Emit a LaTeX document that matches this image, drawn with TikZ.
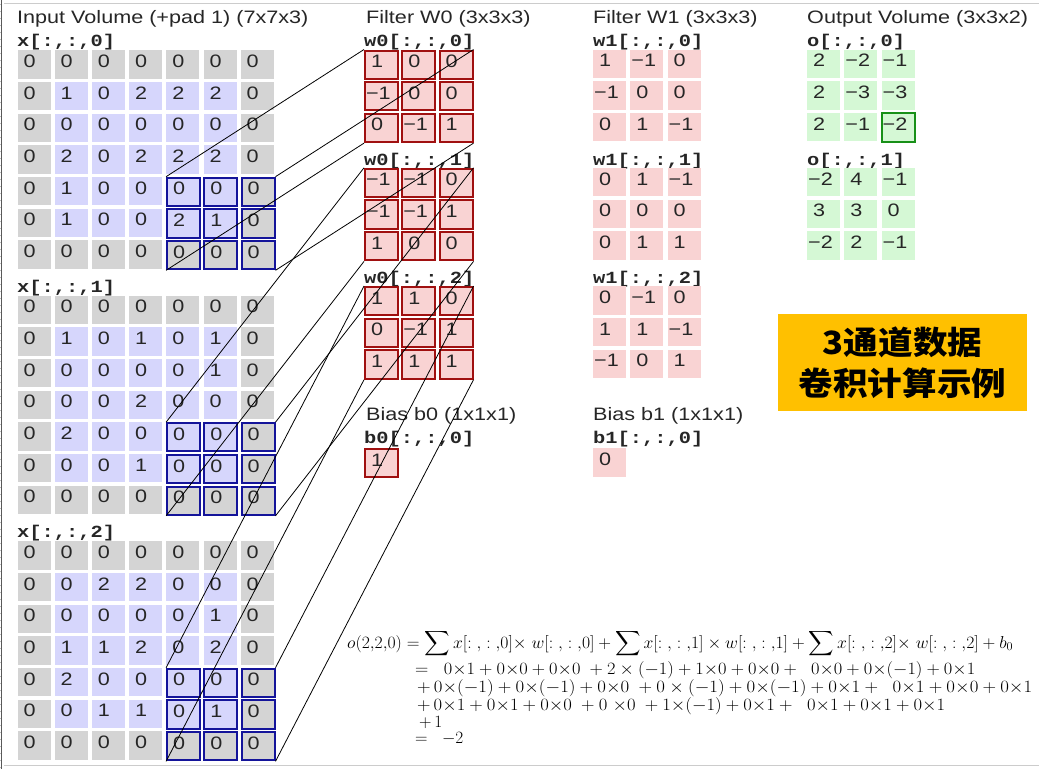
\documentclass[tikz,border=0pt]{standalone}
\usepackage{exscale}
\usepackage{fontspec}
\usepackage{graphicx}
\setmainfont{Liberation Sans}[FakeStretch=1.2]
\newfontfamily\labfont{Liberation Mono}[FakeStretch=1.2]
\newfontfamily\cjkfont{Noto Sans CJK SC}[FakeStretch=1.08]
\definecolor{padgray}{HTML}{D4D4D4}
\definecolor{lav}{HTML}{D6D6FC}
\definecolor{pinkc}{HTML}{F9D3D3}
\definecolor{redb}{HTML}{A01010}
\definecolor{navyb}{HTML}{14149A}
\definecolor{greenc}{HTML}{D5F8D5}
\definecolor{greenb}{HTML}{189018}
\definecolor{notey}{HTML}{FFC000}
\newcommand\cellfnt{\fontsize{18}{20}\selectfont}
\newcommand\cv[1]{\ifnum#1<0\relax\kern1pt\char"2212\relax\number\numexpr0-(#1)\relax\else\kern6pt#1\fi}
\newcommand\cellbox[1]{\makebox[33pt][l]{\cv{#1}}}
\tikzset{
  incell/.style={anchor=north west, inner sep=0pt, minimum height=28.3pt,
    text height=11pt, text depth=5pt, font=\cellfnt, text=black!85},
  winb/.style={draw=navyb, line width=2pt},
  wzero/.style={fill=pinkc, draw=redb, line width=2pt},
  wone/.style={fill=pinkc},
  outc/.style={fill=greenc},
  conn/.style={draw=black, line width=0.8pt},
  ttl/.style={anchor=base west, inner sep=0pt, font=\fontsize{18}{20}\selectfont, text=black!85},
  lab/.style={anchor=base west, inner sep=0pt, font=\labfont\bfseries\fontsize{17}{20}\selectfont, text=black!85},
  fml/.style={anchor=base west, inner sep=0pt, font=\fontsize{16.5}{18}\selectfont},
  note/.style={fill=notey, minimum width=249pt, minimum height=97pt, inner sep=0pt,
    align=center, font=\cjkfont\bfseries\fontsize{32}{41}\selectfont}
}
\newcommand\ingrid[3]{%
  \foreach \rowdata [count=\r from 0] in {#3} {
    \foreach \v [count=\c from 0] in \rowdata {
      \def\cf{lav}\def\cb{}
      \ifnum\r=0 \def\cf{padgray}\fi
      \ifnum\r=6 \def\cf{padgray}\fi
      \ifnum\c=0 \def\cf{padgray}\fi
      \ifnum\c=6 \def\cf{padgray}\fi
      \ifnum\r>3 \ifnum\c>3 \def\cb{winb}\fi\fi
      \node[incell, fill=\cf, \cb] (x#1-\r-\c) at ({17.3+37.2*\c}, {#2+31.67*\r}) {\cellbox{\v}};
    }
  }
}
\newcommand\smgrid[5]{%
  \foreach \rowdata [count=\r from 0] in {#5} {
    \foreach \v [count=\c from 0] in \rowdata {
      \node[incell, #4] (#1-\r-\c) at ({#2+37.25*\c}, {#3+31.67*\r}) {\cellbox{\v}};
    }
  }
}
\newcommand\ix{[:{,}:{,}}
\newcommand\fline[3]{\hbox{\hspace*{#1}\smash{\resizebox{#2}{\height}{#3}}}}
\begin{document}
\begin{tikzpicture}[x=1pt,y=-1pt]
\useasboundingbox (0,0) rectangle (1039,769);
\fill[white] (0,0) rectangle (1039,769);
% screenshot frame
\draw[black!20, line width=1pt] (4,3) -- (1039,3);
\draw[black!20, line width=1pt] (4,765.5) -- (1039,765.5);
\draw[black!65, line width=1.2pt] (1.6,0) -- (1.6,769);
\foreach \t in {4,11,...,769} \draw[black!25, line width=0.6pt] (0,\t) -- (1.2,\t);

% titles
\node[ttl] (tin) at (17,23.3) {Input Volume (+pad 1) (7x7x3)};
\node[ttl] (tw0) at (366,23) {Filter W0 (3x3x3)};
\node[ttl] (tw1) at (593,23) {Filter W1 (3x3x3)};
\node[ttl] (tout) at (807,23) {Output Volume (3x3x2)};
\node[ttl] (tb0) at (366,420) {Bias b0 (1x1x1)};
\node[ttl] (tb1) at (593,420) {Bias b1 (1x1x1)};

% labels
\node[lab] (lx0) at (17,46.7) {x[:,:,0]};
\node[lab] (lx1) at (17,292.2) {x[:,:,1]};
\node[lab] (lx2) at (17,537.7) {x[:,:,2]};
\node[lab] (lwa0) at (364,46.7) {w0[:,:,0]};
\node[lab] (lwa1) at (364,165) {w0[:,:,1]};
\node[lab] (lwa2) at (364,283.3) {w0[:,:,2]};
\node[lab] (lwb0) at (593,46.7) {w1[:,:,0]};
\node[lab] (lwb1) at (593,165) {w1[:,:,1]};
\node[lab] (lwb2) at (593,283.3) {w1[:,:,2]};
\node[lab] (lo0) at (807,46.7) {o[:,:,0]};
\node[lab] (lo1) at (807,165) {o[:,:,1]};
\node[lab] (lb0) at (364,443.3) {b0[:,:,0]};
\node[lab] (lb1) at (593,443.3) {b1[:,:,0]};

% input volume
\ingrid{0}{50}{{0,0,0,0,0,0,0},{0,1,0,2,2,2,0},{0,0,0,0,0,0,0},{0,2,0,2,2,2,0},{0,1,0,0,0,0,0},{0,1,0,0,2,1,0},{0,0,0,0,0,0,0}}
\ingrid{1}{295.5}{{0,0,0,0,0,0,0},{0,1,0,1,0,1,0},{0,0,0,0,0,1,0},{0,0,0,2,0,0,0},{0,2,0,0,0,0,0},{0,0,0,1,0,0,0},{0,0,0,0,0,0,0}}
\ingrid{2}{541}{{0,0,0,0,0,0,0},{0,0,2,2,0,0,0},{0,0,0,0,0,1,0},{0,1,1,2,0,2,0},{0,2,0,0,0,0,0},{0,0,1,1,0,1,0},{0,0,0,0,0,0,0}}

% filter W0
\smgrid{wa0}{364}{49.5}{wzero}{{1,0,0},{-1,0,0},{0,-1,1}}
\smgrid{wa1}{364}{167.8}{wzero}{{-1,-1,0},{-1,-1,1},{1,0,0}}
\smgrid{wa2}{364}{286.1}{wzero}{{1,1,0},{0,-1,1},{1,1,1}}
\smgrid{bz}{364}{448}{wzero}{{1}}
% filter W1
\smgrid{wb0}{593}{49.5}{wone}{{1,-1,0},{-1,0,0},{0,1,-1}}
\smgrid{wb1}{593}{167.8}{wone}{{0,1,-1},{0,0,0},{0,1,1}}
\smgrid{wb2}{593}{286.1}{wone}{{0,-1,0},{1,1,-1},{-1,0,1}}
\smgrid{bo}{593}{448}{wone}{{0}}
% output
\smgrid{o0}{807}{49.5}{outc}{{2,-2,-1},{2,-3,-3},{2,-1,-2}}
\smgrid{o1}{807}{167.8}{outc}{{-2,4,-1},{3,3,0},{-2,2,-1}}
\draw[draw=greenb, line width=2pt] (o0-2-2.north west) rectangle (o0-2-2.south east);

% connectors
\foreach \ch in {0,1,2} {
  \draw[conn] (x\ch-4-4.north west) -- (wa\ch-0-0.north west);
  \draw[conn] (x\ch-4-6.north east) -- (wa\ch-0-2.north east);
  \draw[conn] (x\ch-6-4.south west) -- (wa\ch-2-0.south west);
  \draw[conn] (x\ch-6-6.south east) -- (wa\ch-2-2.south east);
}

% note box
\node[note] (note) at (902.5,362.5) {3通道数据\\卷积计算示例};

% formula (one text block)
\node[fml] (fml) at (347,648) {\vtop{\offinterlineskip
  \fline{0pt}{666pt}{$o(2{,}2{,}0) = \displaystyle\sum x\ix 0]{\times}\; w\ix 0] + \sum x\ix 1] \times w\ix 1] + \sum x\ix 2]{\times}\; w\ix 2] + b_0$}\vskip26pt
  \fline{68pt}{560pt}{$=\;\; 0{\times}1 + 0{\times}0 + 0{\times}0 \;+ 2 \times (-1) + 1{\times}0 + 0{\times}0 +\;\; 0{\times}0 + 0{\times}(-1) + 0{\times}1$}\vskip18pt
  \fline{70pt}{615pt}{$+\, 0{\times}(-1) + 0{\times}(-1) + 0{\times}0 \;+ 0 \times (-1) + 0{\times}(-1) + 0{\times}1 +\;\; 0{\times}1 + 0{\times}0 + 0{\times}1$}\vskip18pt
  \fline{70pt}{528pt}{$+\, 0{\times}1 + 0{\times}1 + 0{\times}0 \;+ 0\;{\times}0 \;+ 1{\times}(-1) + 0{\times}1 +\;\; 0{\times}1 + 0{\times}1 + 0{\times}1$}\vskip17pt
  \hbox{\hspace*{72pt}\smash{$+\, 1$}}\vskip16pt
  \hbox{\hspace*{68pt}\smash{$=\;\; -2$}}}};
\end{tikzpicture}
\end{document}
